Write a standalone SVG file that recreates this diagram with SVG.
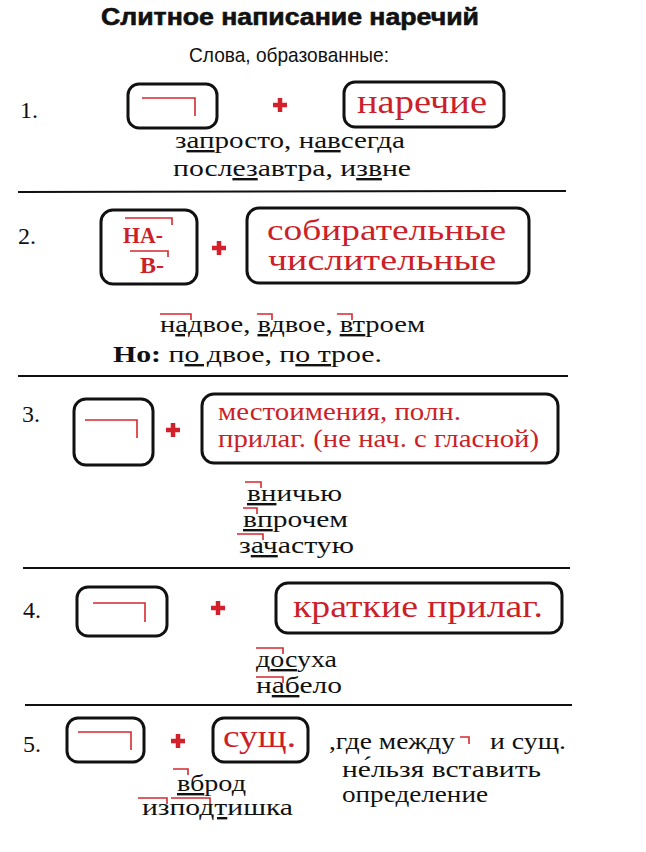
<svg xmlns="http://www.w3.org/2000/svg" width="646" height="852" viewBox="0 0 646 852">
<style>
.bg{fill:#fff}
.box{fill:none;stroke:#111;stroke-width:3}
.mark{fill:none;stroke:#d42a30;stroke-width:1.6}
.plus{fill:none;stroke:#d4202a;stroke-width:4.5}
.sep{stroke:#111;stroke-width:2}
.t{font-family:"Liberation Serif","DejaVu Serif","Times New Roman",serif;font-size:24px;fill:#111}
.num{font-family:"Liberation Serif","DejaVu Serif","Times New Roman",serif;font-size:24px;fill:#111}
.red{font-family:"Liberation Serif","DejaVu Serif","Times New Roman",serif;fill:#cc1f2a}
.redb{font-family:"Liberation Serif","DejaVu Serif","Times New Roman",serif;font-weight:bold;fill:#cc1f2a;font-size:23px}
.u{text-decoration:underline}
.title{font-family:"Liberation Sans",Arial,sans-serif;font-weight:bold;font-size:23px;fill:#111;stroke:#111;stroke-width:0.6}
.sub{font-family:"Liberation Sans",Arial,sans-serif;font-size:21px;fill:#111}
</style>
<rect class="bg" x="0" y="0" width="646" height="852"/>
<g id="header">
<text class="title" x="101" y="25" textLength="378" lengthAdjust="spacingAndGlyphs">Слитное написание наречий</text>
<text class="sub" x="189" y="62" textLength="200" lengthAdjust="spacingAndGlyphs">Слова, образованные:</text>
</g>
<g id="separators">
<line class="sep" x1="18" y1="192" x2="566" y2="191"/>
<line class="sep" x1="18" y1="376" x2="568" y2="376"/>
<line class="sep" x1="23" y1="568" x2="570" y2="568"/>
<line class="sep" x1="25" y1="705" x2="572" y2="705"/>
</g>
<g id="row1">
<text class="num" x="20" y="118">1.</text>
<rect class="box" x="128" y="84" width="89" height="44" rx="11"/>
<polyline class="mark" points="142,98 195,98 195,116"/>
<path class="plus" d="M273,105 h14 M280,98 v14"/>
<rect class="box" x="344" y="82" width="160" height="45" rx="11"/>
<text class="red" x="357" y="113" font-size="34" textLength="130" lengthAdjust="spacingAndGlyphs">наречие</text>
<text class="t" x="175" y="148" textLength="230" lengthAdjust="spacingAndGlyphs">з<tspan class="u">ап</tspan>росто, н<tspan class="u">ав</tspan>сегда</text>
<text class="t" x="173" y="176" textLength="238" lengthAdjust="spacingAndGlyphs">посл<tspan class="u">ез</tspan>автра, и<tspan class="u">зв</tspan>не</text>
</g>
<g id="row2">
<text class="num" x="18" y="244">2.</text>
<rect class="box" x="101" y="210" width="96" height="74" rx="12"/>
<text class="redb" x="123" y="243" textLength="40" lengthAdjust="spacingAndGlyphs">НА-</text>
<polyline class="mark" points="125,218 172,218 172,225"/>
<text class="redb" x="140" y="273" textLength="24" lengthAdjust="spacingAndGlyphs">В-</text>
<polyline class="mark" points="130,251 168,251 168,257"/>
<path class="plus" d="M212,248 h14 M219,241 v14"/>
<rect class="box" x="247" y="208" width="282" height="75" rx="12"/>
<text class="red" x="267" y="240" font-size="30" textLength="239" lengthAdjust="spacingAndGlyphs">собирательные</text>
<text class="red" x="268" y="270" font-size="30" textLength="228" lengthAdjust="spacingAndGlyphs">числительные</text>
<text class="t" x="160" y="332" textLength="265" lengthAdjust="spacingAndGlyphs">н<tspan class="u">ад</tspan>вое, <tspan class="u">вд</tspan>вое, <tspan class="u">вт</tspan>роем</text>
<polyline class="mark" points="160,314 191,314 191,320"/>
<polyline class="mark" points="257,314 272,314 272,320"/>
<polyline class="mark" points="337,314 352,314 352,320"/>
<text class="t" x="113" y="362" textLength="269" lengthAdjust="spacingAndGlyphs"><tspan font-weight="bold">Но:</tspan> п<tspan class="u">о д</tspan>вое, п<tspan class="u">о т</tspan>рое.</text>
</g>
<g id="row3">
<text class="num" x="22" y="422">3.</text>
<rect class="box" x="74" y="399" width="79" height="66" rx="12"/>
<polyline class="mark" points="85,420 137,420 137,438"/>
<path class="plus" d="M166,430 h14 M173,423 v14"/>
<rect class="box" x="202" y="394" width="356" height="69" rx="12"/>
<text class="red" x="218" y="420" font-size="26" textLength="243" lengthAdjust="spacingAndGlyphs">местоимения, полн.</text>
<text class="red" x="218" y="447" font-size="26" textLength="321" lengthAdjust="spacingAndGlyphs">прилаг. (не нач. с гласной)</text>
<text class="t" x="247" y="501" textLength="95" lengthAdjust="spacingAndGlyphs"><tspan class="u">вн</tspan>ичью</text>
<polyline class="mark" points="245,482 261,482 261,488"/>
<text class="t" x="243" y="527" textLength="105" lengthAdjust="spacingAndGlyphs"><tspan class="u">вп</tspan>рочем</text>
<polyline class="mark" points="243,508 257,508 257,514"/>
<text class="t" x="239" y="553" textLength="115" lengthAdjust="spacingAndGlyphs">з<tspan class="u">ач</tspan>астую</text>
<polyline class="mark" points="237,534 263,534 263,540"/>
</g>
<g id="row4">
<text class="num" x="23" y="618">4.</text>
<rect class="box" x="77" y="587" width="90" height="49" rx="11"/>
<polyline class="mark" points="93,603 145,603 145,622"/>
<path class="plus" d="M211,608 h14 M218,601 v14"/>
<rect class="box" x="276" y="583" width="286" height="50" rx="12"/>
<text class="red" x="293" y="617" font-size="32" textLength="250" lengthAdjust="spacingAndGlyphs">краткие прилаг.</text>
<text class="t" x="256" y="667" textLength="81" lengthAdjust="spacingAndGlyphs">д<tspan class="u">ос</tspan>уха</text>
<polyline class="mark" points="256,648 283,648 283,654"/>
<text class="t" x="256" y="693" textLength="86" lengthAdjust="spacingAndGlyphs">н<tspan class="u">аб</tspan>ело</text>
<polyline class="mark" points="256,677 283,677 283,683"/>
</g>
<g id="row5">
<text class="num" x="23" y="752">5.</text>
<rect class="box" x="67" y="718" width="77" height="44" rx="11"/>
<polyline class="mark" points="78,732 131,732 131,750"/>
<path class="plus" d="M171,741 h14 M178,734 v14"/>
<rect class="box" x="213" y="718" width="95" height="44" rx="11"/>
<text class="red" x="223" y="747" font-size="32" textLength="73" lengthAdjust="spacingAndGlyphs">сущ.</text>
<text class="t" x="177" y="791" textLength="69" lengthAdjust="spacingAndGlyphs"><tspan class="u">вб</tspan>род</text>
<polyline class="mark" points="173,769 188,769 188,775"/>
<text class="t" x="142" y="815" textLength="151" lengthAdjust="spacingAndGlyphs">изпо<tspan class="u">дт</tspan>ишка</text>
<polyline class="mark" points="138,798 167,798 167,804"/>
<polyline class="mark" points="171,798 210,798 210,804"/>
<text class="t" x="329" y="749" textLength="126" lengthAdjust="spacingAndGlyphs">,где между</text>
<polyline class="mark" points="460,737 469,737 469,744"/>
<text class="t" x="490" y="749" textLength="76" lengthAdjust="spacingAndGlyphs">и сущ.</text>
<text class="t" x="342" y="777" textLength="199" lengthAdjust="spacingAndGlyphs">не́льзя вставить</text>
<text class="t" x="342" y="802" textLength="146" lengthAdjust="spacingAndGlyphs">определение</text>
</g>
</svg>
